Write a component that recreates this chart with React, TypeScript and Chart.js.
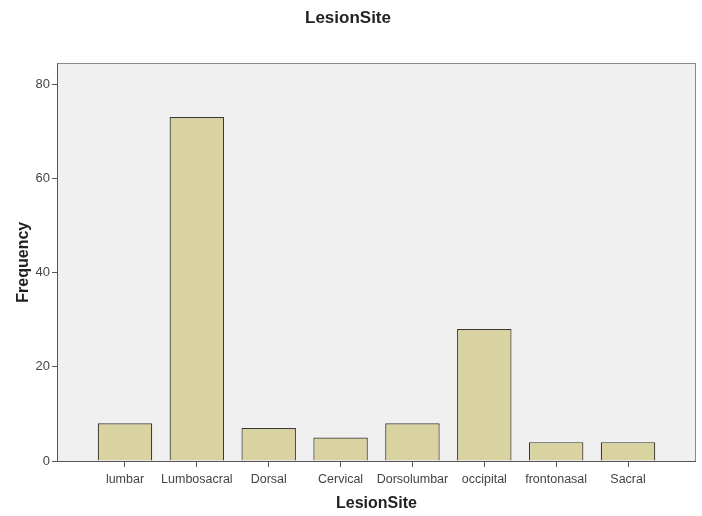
import React, { useEffect, useRef } from "react";
import { Chart, registerables } from "chart.js";

Chart.register(...registerables);

const categories = ["lumbar", "Lumbosacral", "Dorsal", "Cervical", "Dorsolumbar", "occipital", "frontonasal", "Sacral"];
const frequencies = [8, 73, 7, 5, 8, 28, 4, 4];
const yTicks = [0, 20, 40, 60, 80];

const FONT = "'Liberation Sans', Arial, sans-serif";

const framePlugin = {
  id: "frame",
  beforeDraw(chart: any) {
    const { ctx, chartArea } = chart;
    ctx.save();
    ctx.fillStyle = "#f0f0f0";
    ctx.fillRect(chartArea.left, chartArea.top, chartArea.right - chartArea.left, chartArea.bottom - chartArea.top);
    ctx.restore();
  },
  afterDraw(chart: any) {
    const { ctx, chartArea } = chart;
    ctx.save();
    ctx.strokeStyle = "#8a8a8a";
    ctx.lineWidth = 1;
    ctx.strokeRect(Math.round(chartArea.left) + 0.5, Math.round(chartArea.top) + 0.5, Math.round(chartArea.right - chartArea.left) - 1, Math.round(chartArea.bottom - chartArea.top));
    ctx.strokeStyle = "#555";
    ctx.beginPath();
    ctx.moveTo(Math.round(chartArea.left) + 0.5, chartArea.top);
    ctx.lineTo(Math.round(chartArea.left) + 0.5, chartArea.bottom);
    ctx.moveTo(chartArea.left, Math.round(chartArea.bottom) + 0.5);
    ctx.lineTo(chartArea.right, Math.round(chartArea.bottom) + 0.5);
    ctx.stroke();
    ctx.restore();
  },
};

export default function App() {
  const ref = useRef<HTMLCanvasElement>(null);
  useEffect(() => {
    if (!ref.current) return;
    const chart = new Chart(ref.current, {
      type: "bar",
      data: {
        datasets: [
          {
            data: frequencies.map((v, i) => ({ x: i, y: v })),
            backgroundColor: "#d8d3a0",
            borderColor: "#3a3a2e",
            borderWidth: 1.2,
            barPercentage: 0.758,
            categoryPercentage: 1,
          },
        ],
      },
      options: {
        responsive: false,
        animation: false,
        layout: { padding: { left: 0, right: 6, top: 0, bottom: 0 } },
        plugins: {
          legend: { display: false },
          tooltip: { enabled: false },
          title: {
            display: true,
            text: "LesionSite",
            color: "#222",
            font: { family: FONT, size: 17, weight: "bold" },
            padding: { top: 8, bottom: 35 },
          },
        },
        scales: {
          x: {
            type: "linear",
            offset: false,
            min: -0.946,
            max: 7.946,
            afterBuildTicks: (scale: any) => {
              scale.ticks = categories.map((_, i) => ({ value: i }));
            },
            afterFit: (scale: any) => {
              scale.height = 55;
            },
            ticks: {
              autoSkip: false,
              maxRotation: 0,
              padding: 5,
              color: "#444",
              font: { family: FONT, size: 12.5 },
              callback: (v: any) => categories[v] ?? "",
            },
            grid: { offset: false, drawOnChartArea: false, drawTicks: true, tickLength: 6, color: "#555" },
            border: { display: false },
            title: {
              display: true,
              text: "LesionSite",
              color: "#222",
              font: { family: FONT, size: 16, weight: "bold" },
              padding: { top: 0, bottom: 3 },
            },
          },
          y: {
            type: "linear",
            min: 0,
            max: 84.4,
            afterBuildTicks: (scale: any) => {
              scale.ticks = yTicks.map((v) => ({ value: v }));
            },
            afterFit: (scale: any) => {
              scale.width = 57;
            },
            ticks: {
              padding: 2,
              color: "#444",
              font: { family: FONT, size: 13 },
            },
            grid: { drawOnChartArea: false, drawTicks: true, tickLength: 5, color: "#555" },
            border: { display: false },
            title: {
              display: true,
              text: "Frequency",
              color: "#222",
              font: { family: FONT, size: 16, weight: "bold" },
              padding: { top: 14, bottom: 0 },
            },
          },
        },
      },
      plugins: [framePlugin],
    } as any);
    return () => chart.destroy();
  }, []);
  return (
    <div style={{ position: "absolute", left: 0, top: 0, width: 702, height: 516, background: "#fff" }}>
      <canvas ref={ref} width={702} height={516} />
    </div>
  );
}
